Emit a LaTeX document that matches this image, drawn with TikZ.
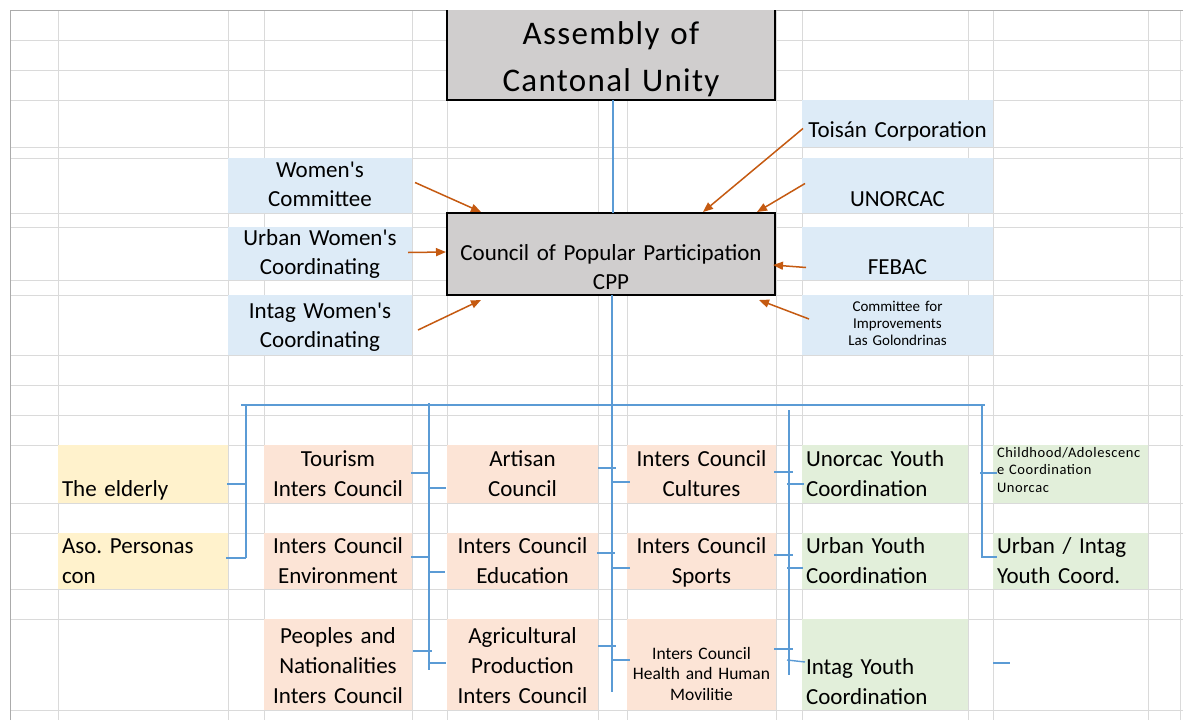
\documentclass[tikz,border=0pt]{standalone}
\usepackage{fontspec}
\setmainfont{Carlito}
\newfontfamily\widefont{Carlito}[LetterSpace=4]
\usepackage{xcolor}
\definecolor{xlgrid}{RGB}{218,218,218}
\definecolor{xlborder}{RGB}{171,171,171}
\definecolor{xlgray}{RGB}{208,206,206}
\definecolor{xlblue}{RGB}{221,235,247}
\definecolor{xlpeach}{RGB}{252,228,214}
\definecolor{xlyellow}{RGB}{255,242,204}
\definecolor{xlgreen}{RGB}{226,239,218}
\definecolor{xlorange}{RGB}{197,90,17}
\definecolor{xlline}{RGB}{91,155,213}
\usetikzlibrary{arrows.meta, calc}
\hyphenpenalty=10000
\exhyphenpenalty=10000
\frenchspacing

\begin{document}
\begin{tikzpicture}[x=1pt, y=-1pt,
  cell/.style={inner xsep=4pt, inner ysep=0pt, outer sep=0pt, anchor=north west,
               align=center, text=black, font=\fontsize{23}{30}\selectfont},
  lcell/.style={cell, align=left},
  arr/.style={xlorange, line width=1.5pt, -{Triangle[length=10pt, width=8pt]}},
  link/.style={xlline, line width=1.4pt}]

\useasboundingbox (0,0) rectangle (1183,720);
\fill[white] (0,0) rectangle (1183,720);

% --- Spreadsheet grid ---
\foreach \gx in {58,228,264,412,447,598,627,776,802,968,993,1148,1180}
  \draw[xlgrid, line width=1pt] (\gx,10) -- (\gx,720);
\foreach \gy in {40,70,100,147,158,213,227,280,295,355,385,415,445,503,533,589,619,710}
  \draw[xlgrid, line width=1pt] (10,\gy) -- (1183,\gy);
\draw[xlborder, line width=1pt] (10,720) -- (10,10) -- (1183,10);

% --- Top: assembly and council ---
\node[cell, fill=xlgray, text width=320pt, text height=34pt, text depth=56pt,
      font=\widefont\fontsize{33}{47}\selectfont]
      (asm) at (447,10) {Assembly of\\Cantonal Unity};
\draw[black, line width=2.6pt] (asm.north west) -- (asm.south west) -- (asm.south east) -- (asm.north east);

\node[cell, fill=xlgray, draw=black, line width=2.6pt, text width=320pt,
      text height=47pt, text depth=35pt, font=\fontsize{23}{29}\selectfont]
      (cpp) at (447,213) {Council of Popular Participation\\CPP};

% Women's organisations (left)
\node[cell, fill=xlblue, text width=176pt, text height=19pt, text depth=36pt,
      font=\fontsize{23}{29}\selectfont] (wc) at (228,158) {Women\textquotesingle s\\Committee};
\node[cell, fill=xlblue, text width=176pt, text height=18pt, text depth=35pt,
      font=\fontsize{23}{29}\selectfont] (uw) at (228,227) {Urban Women\textquotesingle s\\Coordinating};
\node[cell, fill=xlblue, text width=176pt, text height=23pt, text depth=37pt,
      font=\fontsize{23}{29}\selectfont] (iw) at (228,295) {Intag Women\textquotesingle s\\Coordinating};

% Other organisations (right)
\node[cell, fill=xlblue, text width=183pt, text height=37pt, text depth=10pt]
      (tc) at (802,100) {Toisán Corporation};
\node[cell, fill=xlblue, text width=183pt, text height=48pt, text depth=7pt]
      (un) at (802,158) {UNORCAC};
\node[cell, fill=xlblue, text width=183pt, text height=47pt, text depth=6pt]
      (fe) at (802,227) {FEBAC};
\node[cell, fill=xlblue, text width=183pt, text height=16pt, text depth=44pt,
      font=\fontsize{15}{17}\selectfont]
      (cm) at (802,295) {Committee for\\Improvements\\Las Golondrinas};

% Arrows into the council
\draw[arr] ($(wc.east)+(3,-3)$) -- ($(cpp.north west)+(34,-1)$);
\draw[arr] ($(uw.east)+(-4,-1)$) -- ($(cpp.west)+(-1,-2)$);
\draw[arr] ($(iw.east)+(6,5)$) -- ($(cpp.south west)+(34,5)$);
\draw[arr] ($(tc.west)+(1,5)$) -- ($(cpp.north east)+(-72,-1)$);
\draw[arr] ($(un.west)+(3,-2)$) -- ($(cpp.north east)+(-18,-1)$);
\draw[arr] ($(fe.west)+(4,14)$) -- ($(cpp.east)+(-2,11)$);
\draw[arr] ($(cm.west)+(7,-6)$) -- ($(cpp.south east)+(-16,5)$);

% --- Row A ---
\node[lcell, fill=xlyellow, text width=162pt, text height=51pt, text depth=7pt]
      (eld) at (58,445) {The elderly};
\node[cell, fill=xlpeach, text width=140pt, text height=21pt, text depth=37pt]
      (tour) at (264,445) {Tourism\\Inters Council};
\node[cell, fill=xlpeach, text width=143pt, text height=21pt, text depth=37pt]
      (art) at (447,445) {Artisan\\Council};
\node[cell, fill=xlpeach, text width=141pt, text height=21pt, text depth=37pt]
      (cult) at (627,445) {Inters Council\\Cultures};
\node[lcell, fill=xlgreen, text width=158pt, text height=21pt, text depth=37pt]
      (uyc) at (802,445) {Unorcac Youth\\Coordination};
\node[lcell, fill=xlgreen, text width=147pt, text height=12pt, text depth=46pt,
      font=\widefont\fontsize{14.5}{17.5}\selectfont]
      (chi) at (993,445) {Childhood/Adolescenc\\e Coordination\\Unorcac};

% --- Row B ---
\node[lcell, fill=xlyellow, text width=162pt, text height=20pt, text depth=36pt]
      (aso) at (58,533) {Aso. Personas\\con};
\node[cell, fill=xlpeach, text width=140pt, text height=20pt, text depth=36pt]
      (env) at (264,533) {Inters Council\\Environment};
\node[cell, fill=xlpeach, text width=143pt, text height=20pt, text depth=36pt]
      (edu) at (447,533) {Inters Council\\Education};
\node[cell, fill=xlpeach, text width=141pt, text height=20pt, text depth=36pt]
      (spo) at (627,533) {Inters Council\\Sports};
\node[lcell, fill=xlgreen, text width=158pt, text height=20pt, text depth=36pt]
      (ury) at (802,533) {Urban Youth\\Coordination};
\node[lcell, fill=xlgreen, text width=147pt, text height=20pt, text depth=36pt]
      (uic) at (993,533) {Urban / Intag\\Youth Coord.};

% --- Row C ---
\node[cell, fill=xlpeach, text width=140pt, text height=24pt, text depth=67pt]
      (peo) at (264,619) {Peoples and\\Nationalities\\Inters Council};
\node[cell, fill=xlpeach, text width=143pt, text height=24pt, text depth=67pt]
      (agr) at (447,619) {Agricultural\\Production\\Inters Council};
\node[cell, fill=xlpeach, inner xsep=0pt, text width=149pt, text height=40pt, text depth=51pt,
      font=\fontsize{17.5}{20.5}\selectfont]
      (hea) at (627,619) {Inters Council\\Health and Human\\Movilitie};
\node[lcell, fill=xlgreen, text width=158pt, text height=55pt, text depth=36pt]
      (iyc) at (802,619) {Intag Youth\\Coordination};

% --- Blue bracket lines ---
\draw[link] ($(asm.south)+(2,0)$) -- ($(cpp.north)+(2,0)$);
\draw[link] ($(cpp.south)+(1,0)$) -- (612,692);
\draw[link] (241,405) -- (985,405);

% elderly bracket
\draw[link] (246,405) -- (246,558);
\draw[link] (227,484) -- (246,484);
\draw[link] (226,558) -- (246,558);

% tourism / artisan column
\draw[link] (429,403) -- (429,670);
\draw[link] (411,473) -- (430,473);
\draw[link] (428,488) -- (446,488);
\draw[link] (411,557) -- (430,557);
\draw[link] (428,572) -- (445,572);
\draw[link] (413,651) -- (432,651);
\draw[link] (428,663) -- (446,663);

% middle column
\draw[link] (598,468) -- (616,468);
\draw[link] (612,482) -- (630,482);
\draw[link] (597,553) -- (615,553);
\draw[link] (612,568) -- (630,568);
\draw[link] (598,646) -- (616,646);
\draw[link] (612,660) -- (630,660);

% youth column
\draw[link] (789,410) -- (789,675);
\draw[link] (774,472) -- (793,472);
\draw[link] (787,484) -- (804,484);
\draw[link] (774,555) -- (793,555);
\draw[link] (787,568) -- (803,568);
\draw[link] (774,649) -- (793,649);
\draw[link] (787,660) -- (805,662);

% right bracket
\draw[link] (982,405) -- (982,557) -- (997,557);
\draw[link] (980,473) -- (997,473);
\draw[link] (993,663) -- (1010,663);

\end{tikzpicture}
\end{document}
